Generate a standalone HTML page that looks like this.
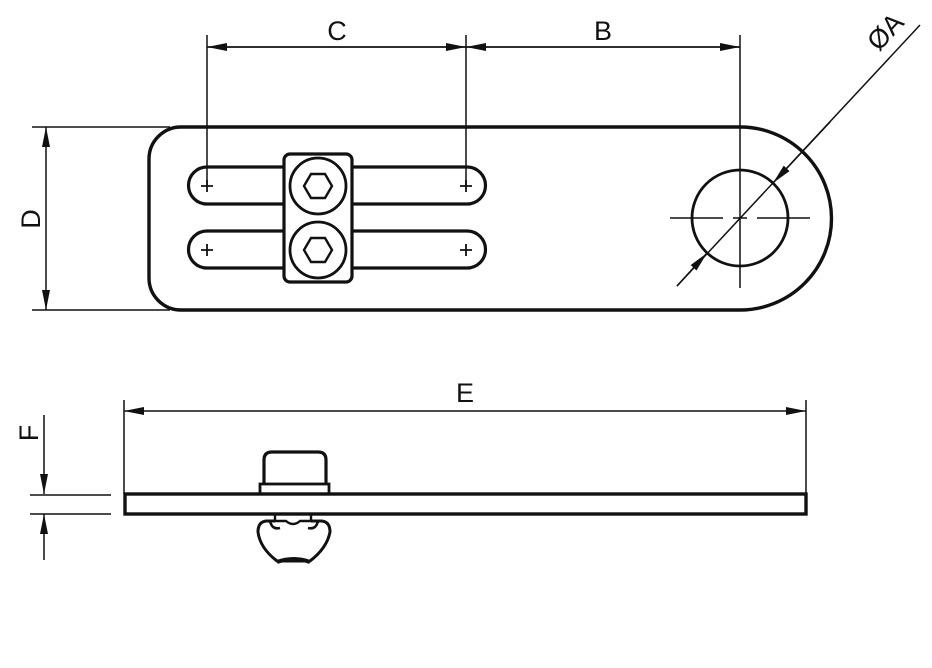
<!DOCTYPE html>
<html><head><meta charset="utf-8"><style>html,body{margin:0;padding:0;background:#fff}svg{display:block}</style></head>
<body>
<svg width="932" height="668" viewBox="0 0 932 668" xmlns="http://www.w3.org/2000/svg" font-family="Liberation Sans, sans-serif">
<defs>
<marker id="ar" viewBox="0 0 20 8" refX="20" refY="4" markerWidth="20" markerHeight="8" markerUnits="userSpaceOnUse" orient="auto"><path d="M0,0 L20,4 L0,8 Z" fill="#111"/></marker>
</defs>
<g stroke="#111" fill="none">
<path d="M181,127 L740,127 A91.5,91.5 0 0 1 740,310 L181,310 A32,32 0 0 1 149,278 L149,159 A32,32 0 0 1 181,127 Z" stroke-width="3.4"/>
<circle cx="740" cy="218" r="48" stroke-width="2.8"/>
<g stroke-width="3.2">
<path d="M283,167 L207,167 A18.5,18.5 0 0 0 207,204 L283,204"/>
<path d="M352,167 L467,167 A18.5,18.5 0 0 1 467,204 L352,204"/>
<path d="M283,231 L207,231 A18.5,18.5 0 0 0 207,268 L283,268"/>
<path d="M352,231 L467,231 A18.5,18.5 0 0 1 467,268 L352,268"/>
<rect x="284" y="154" width="68" height="128" rx="6"/>
<circle cx="318" cy="186" r="28" stroke-width="2.8"/>
<circle cx="318" cy="250" r="28" stroke-width="2.8"/>
</g>
<polygon points="304,186 311,174 325,174 332,186 325,198 311,198" stroke-width="2.4"/>
<polygon points="304,250 311,238 325,238 332,250 325,262 311,262" stroke-width="2.4"/>
<g stroke-width="1.8">
<path d="M201,186h12M207,180v12M460,186h12M466,180v12M201,250h12M207,244v12M460,250h12M466,244v12"/>
</g>
<g stroke-width="1.5">
<path d="M207,35 V186 M466,35 V186 M740,35 V288"/>
<path d="M207,47 H466" marker-end="url(#ar)"/>
<path d="M466,47 H207" marker-end="url(#ar)"/>
<path d="M466,47 H740" marker-end="url(#ar)"/>
<path d="M740,47 H466" marker-end="url(#ar)"/>
<path d="M670,218 H723 M733,218 H747 M757,218 H810"/>
<path d="M920,25 L677,286"/>
<path d="M830,122 L773,183" marker-end="url(#ar)"/>
<path d="M677,286 L707,253" marker-end="url(#ar)"/>
<path d="M32,127 H170 M32,310 H170"/>
<path d="M46,218 V127" marker-end="url(#ar)"/>
<path d="M46,218 V310" marker-end="url(#ar)"/>
<path d="M124,400 V494 M806,400 V494"/>
<path d="M465,411 H124" marker-end="url(#ar)"/>
<path d="M465,411 H806" marker-end="url(#ar)"/>
<path d="M30,495 H111 M30,514 H111"/>
<path d="M44,415 V494" marker-end="url(#ar)"/>
<path d="M44,560 V514" marker-end="url(#ar)"/>
</g>
<rect x="125" y="494" width="681" height="20" stroke-width="3.4"/>
<path d="M264,485 V460 Q264,452 272,452 H318 Q326,452 326,460 V485" stroke-width="3.2"/>
<rect x="260" y="484" width="69" height="10" stroke-width="2.8"/>
<path d="M275,515 V521 H286 Q293,527 300,521 H311 V515" stroke-width="2.4"/>
<path d="M275,521 H266 Q258,522 258,532 Q260,548 277,561 L310,561 Q327,548 330,532 Q330,522 322,521 H311" stroke-width="3"/>
<path d="M270,521 Q272,530 280,528 M318,521 Q316,530 308,528" stroke-width="2.6"/>
<path d="M277,562 Q294,556 310,562" stroke-width="4"/>
</g>
<g fill="#111" font-size="27">
<text x="337" y="40" text-anchor="middle">C</text>
<text x="603" y="40" text-anchor="middle">B</text>
<text x="465" y="402" text-anchor="middle">E</text>
<text transform="translate(40,219) rotate(-90)" text-anchor="middle">D</text>
<text transform="translate(38,433) rotate(-90)" text-anchor="middle">F</text>
<text transform="translate(892,38) rotate(-47)" text-anchor="middle">ØA</text>
</g>
</svg>
</body></html>
